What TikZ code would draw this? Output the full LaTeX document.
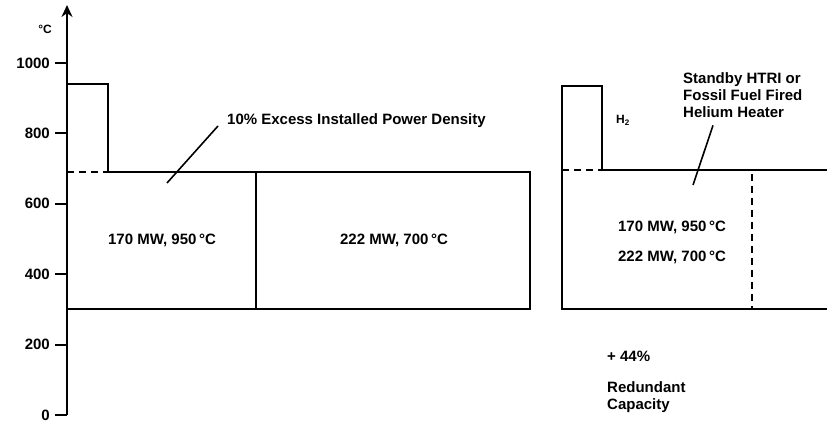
\documentclass[tikz,border=0pt]{standalone}
\usepackage{fontspec}
\setmainfont{Liberation Sans}
\usetikzlibrary{arrows.meta, positioning}

\begin{document}
\begin{tikzpicture}[
        x=1pt, y=-1pt,
        box/.style={draw=black, line width=2.8pt},
        dashbox/.style={draw=black, line width=2.5pt, dash pattern=on 7pt off 5pt},
        lbl/.style={font=\fontsize{15}{17}\selectfont\bfseries, inner sep=0pt, align=left},
        ticklbl/.style={font=\fontsize{15}{17}\selectfont\bfseries, anchor=east, inner sep=0pt},
        leader/.style={draw=black, line width=1.6pt},
    ]
    \useasboundingbox (0,0) rectangle (827,425);

    % temperature axis
    \draw[line width=2.8pt, -{Stealth[length=12pt,width=11pt]}] (67,415) -- (67,5);
    \foreach \t in {0,200,...,1000} {
        \draw[line width=1.8pt] (55,{415-0.352*\t}) -- (67,{415-0.352*\t});
        \node[ticklbl] (t\t) at (50,{415-0.352*\t}) {\t};
    }
    \node[font=\fontsize{12}{14}\selectfont\bfseries, inner sep=0pt] (unit) at (45,29) {°C};

    % left case: two reactors
    \draw[box] (67,84) -- (108,84) -- (108,172) -- (530,172) -- (530,309) -- (67,309);
    \draw[box] (256,172) -- (256,309);
    \draw[dashbox] (67,172) -- (108,172);
    \node[lbl] (lo170) at (162,240) {170 MW, 950\,°C};
    \node[lbl] (lo222) at (394,240) {222 MW, 700\,°C};

    \node[lbl, anchor=west] (excess) at (227,121) {10\% Excess Installed Power Density};
    \coordinate (excessPt) at (167,183);
    \draw[leader] ([shift={(-9,5)}]excess.west) -- (excessPt);

    % right case: one reactor plus standby heater
    \draw[box] (827,170) -- (602,170) -- (602,86) -- (562,86) -- (562,309) -- (827,309);
    \draw[dashbox] (562,170) -- (602,170);
    \draw[dashbox] (752,174) -- (752,309);
    \node[font=\fontsize{12}{14}\selectfont\bfseries, inner sep=0pt] (h2) at (623,120) {H\textsubscript{2}};

    \node[lbl, anchor=north west] (standby) at (683,72) {Standby HTRI or\\Fossil Fuel Fired\\Helium Heater};
    \coordinate (heaterPt) at (693,185);
    \draw[leader] ([shift={(30,8)}]standby.south west) -- (heaterPt);

    \node[lbl] (ri170) at (672,227) {170 MW, 950\,°C};
    \node[lbl] (ri222) at (672,257) {222 MW, 700\,°C};

    \node[lbl, anchor=west] (plus) at (607,356) {+ 44\%};
    \node[lbl, anchor=north west] (redund) at (607,381) {Redundant\\Capacity};
\end{tikzpicture}
\end{document}
